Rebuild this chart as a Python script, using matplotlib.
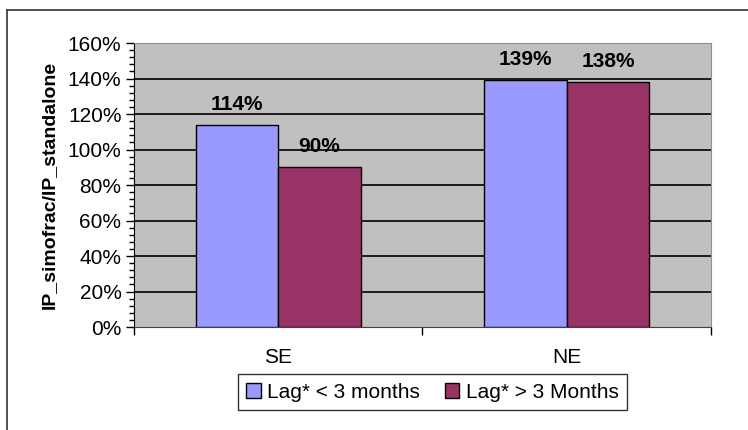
import matplotlib
matplotlib.use('Agg')
import matplotlib.pyplot as plt
from matplotlib.lines import Line2D
from matplotlib.ticker import MultipleLocator, FixedLocator, PercentFormatter
import numpy as np

# datos
regiones = ['SE', 'NE']
lag_menor = [114, 139]   # Lag* < 3 months
lag_mayor = [90, 138]    # Lag* > 3 Months
series = ['Lag* < 3 months', 'Lag* > 3 Months']
colores = ['#9999FF', '#993366']

plt.rcParams['font.family'] = ['Liberation Sans', 'DejaVu Sans']

fig = plt.figure(figsize=(7.48, 4.30), dpi=100)
ax = fig.add_axes([0.179, 0.2395, 0.7715, 0.6605])

x = np.arange(len(regiones))
ancho = 0.286
b1 = ax.bar(x - ancho / 2, lag_menor, ancho, color=colores[0], edgecolor='black', linewidth=1, zorder=3, label=series[0])
b2 = ax.bar(x + ancho / 2, lag_mayor, ancho, color=colores[1], edgecolor='black', linewidth=1, zorder=3, label=series[1])

for barras, vals in ((b1, lag_menor), (b2, lag_mayor)):
    for b, v in zip(barras, vals):
        ax.annotate(f'{v}%', (b.get_x() + b.get_width() / 2, v), xytext=(0, 8),
                    textcoords='offset points', ha='center', va='bottom',
                    fontsize=15, fontweight='bold')

ax.set_facecolor('#C0C0C0')
ax.set_xlim(-0.5, 1.5)
ax.set_ylim(0, 160)
ax.yaxis.set_major_locator(MultipleLocator(20))
ax.yaxis.set_minor_locator(MultipleLocator(4))
ax.yaxis.set_major_formatter(PercentFormatter(decimals=0))
for yv in range(20, 160, 20):
    ax.axhline(yv, color='black', linewidth=1.2, zorder=1)

ax.set_xticks(x)
ax.set_xticklabels(regiones)
ax.xaxis.set_minor_locator(FixedLocator([-0.5, 0.5, 1.5]))
ax.tick_params(axis='x', which='major', length=0, pad=15, labelsize=15)
ax.tick_params(axis='x', which='minor', length=6, width=1, direction='out')
ax.tick_params(axis='y', which='major', length=6, width=1, direction='out', pad=3, labelsize=15)
ax.tick_params(axis='y', which='minor', length=3.5, width=1, direction='out')

ax.spines['top'].set_color('#909090')
ax.spines['right'].set_color('#909090')
ax.spines['left'].set_color('black')
ax.spines['bottom'].set_color('#404040')

ax.set_ylabel('IP_simofrac/IP_standalone', fontsize=14, fontweight='bold', labelpad=7)

leg = fig.legend(handles=[b1, b2], loc='center', bbox_to_anchor=(0.578, 0.088), ncol=2,
                 fontsize=15, frameon=True, fancybox=False, edgecolor='black',
                 handlelength=0.7, handleheight=0.7, handletextpad=0.3,
                 columnspacing=1.2, borderpad=0.4)
leg.get_frame().set_linewidth(1)

# marco exterior (arriba e izquierda)
fig.add_artist(Line2D([7 / 748, 1.0], [1 - 10 / 430, 1 - 10 / 430], color='#333333', linewidth=1.2))
fig.add_artist(Line2D([7 / 748, 7 / 748], [0, 1 - 10 / 430], color='#333333', linewidth=1.2))

fig.savefig('out.png', dpi=100)
